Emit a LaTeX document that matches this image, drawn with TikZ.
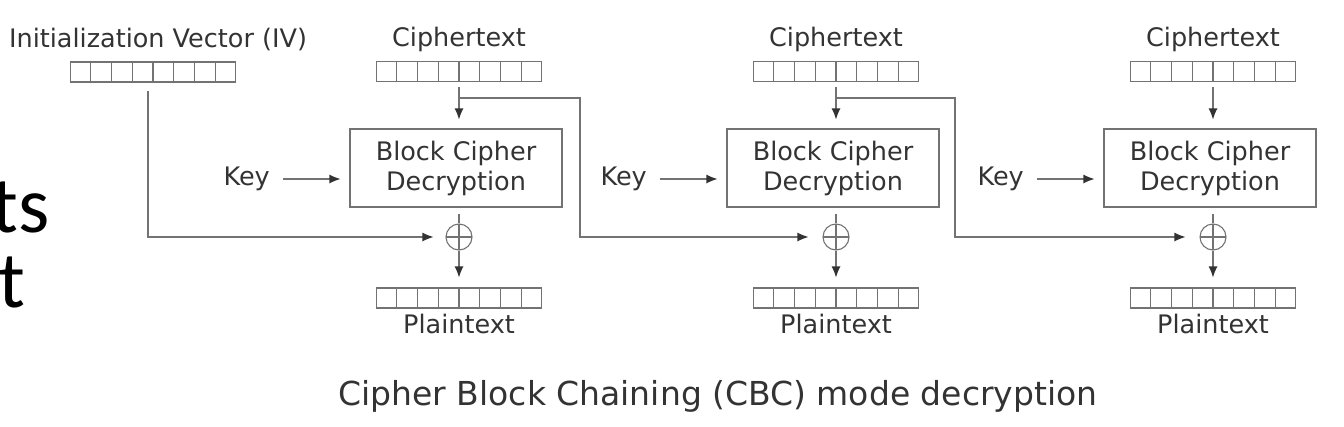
\documentclass[tikz,border=0pt]{standalone}
\usepackage{fontspec}
\setmainfont{DejaVu Sans}
\newfontfamily\slidefont{Carlito}
\usetikzlibrary{arrows.meta,calc}
\newcommand\regcells[1]{%
  \foreach \i in {1,...,7}{%
    \draw[line] ($(#1.north west)!\i/8!(#1.north east)$) -- ($(#1.south west)!\i/8!(#1.south east)$);}}
\begin{document}
\begin{tikzpicture}[x=1pt,y=-1pt,
  line/.style={draw=black!55, line width=1.1pt},
  arr/.style={line, -{Latex[length=11pt,width=9pt,color=black!80]}},
  reg/.style={line, rectangle, minimum width=165pt, minimum height=20pt, inner sep=0pt},
  lbl/.style={font=\fontsize{25.5}{30}\selectfont, text=black!80, inner sep=0pt},
  cbox/.style={line, rectangle, minimum width=212pt, minimum height=78pt, align=center,
    font=\fontsize{25.5}{30}\selectfont, text=black!80, inner sep=0pt},
  xorc/.style={line, circle, minimum size=26pt, inner sep=0pt,
    path picture={\draw[black!55, line width=1.1pt]
      (path picture bounding box.north) -- (path picture bounding box.south)
      (path picture bounding box.west) -- (path picture bounding box.east);}},
  frag/.style={font=\slidefont\fontsize{80}{80}\selectfont, text=black, inner sep=0pt, anchor=base east}
]
\useasboundingbox (0,0) rectangle (1344,426);
\fill[white] (0,0) rectangle (1344,426);

% slide fragments
\node[frag] (frag1) at (50,232) {ts};
\node[frag] (frag2) at (25,307) {t};

% IV
\node[lbl, anchor=base] (ivl) at (158,47) {Initialization Vector (IV)};
\node[reg] (iv) at (153,72) {};
\regcells{iv}

% columns
\foreach \n/\cx in {1/459, 2/836, 3/1213}{
  \node[lbl, anchor=base] (ctl\n) at (\cx,46) {Ciphertext};
  \node[reg] (ct\n) at (\cx,71.5) {};
  \regcells{ct\n}
  \node[cbox] (box\n) at (\cx-3,168) {Block Cipher\\Decryption};
  \node[lbl, anchor=east] (key\n) at (\cx-189,179) {Key};
  \node[xorc] (xor\n) at (\cx,237) {};
  \node[reg] (pt\n) at (\cx,298) {};
  \regcells{pt\n}
  \node[lbl, anchor=base] (ptl\n) at (\cx,333) {Plaintext};
  \draw[arr, shorten <=5pt, shorten >=9pt] (ct\n.south) -- (ct\n.south |- box\n.north);
  \draw[arr, shorten <=13pt, shorten >=9pt] (key\n.east) -- (key\n.east -| box\n.west);
  \draw[line, shorten <=6pt] (box\n.south -| xor\n) -- (xor\n.north);
  \draw[arr, shorten >=10pt] (xor\n.south) -- (pt\n.north);
}

% chaining
\draw[arr, shorten <=8pt, shorten >=12pt] ([xshift=-5pt]iv.south) |- (xor1.west);
\coordinate (tap1) at (459,98);
\coordinate (tap2) at (836,98);
\draw[arr, shorten >=14pt] (tap1) -- ++(121,0) |- (xor2.west);
\draw[arr, shorten >=14pt] (tap2) -- ++(119,0) |- (xor3.west);

% caption
\node[font=\fontsize{33}{40}\selectfont, text=black!80, inner sep=0pt, anchor=base] (cap) at (718,405)
  {Cipher Block Chaining (CBC) mode decryption};
\end{tikzpicture}
\end{document}
